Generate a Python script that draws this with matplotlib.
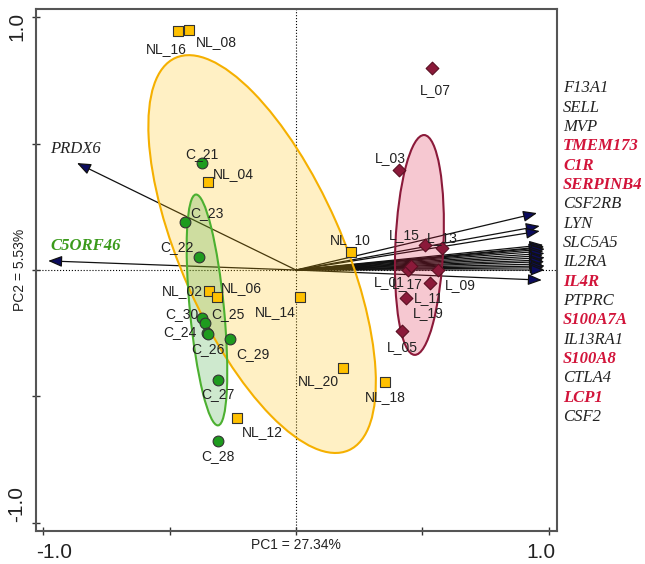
import matplotlib
matplotlib.use("Agg")
import matplotlib.pyplot as plt
from matplotlib.patches import Ellipse
from matplotlib.transforms import ScaledTranslation
import numpy as np

# sample scores (PC1, PC2)
nl_names = ['NL_16', 'NL_08', 'NL_04', 'NL_10', 'NL_02', 'NL_06', 'NL_14', 'NL_12', 'NL_20', 'NL_18']
nl_x = [-0.466, -0.423, -0.348, 0.217, -0.344, -0.313, 0.016, -0.233, 0.186, 0.352]
nl_y = [0.945, 0.949, 0.348, 0.071, -0.083, -0.107, -0.107, -0.585, -0.387, -0.443]

c_names = ['C_21', 'C_23', 'C_22', 'C_30', 'C_25', 'C_24', 'C_26', 'C_29', 'C_27', 'C_28']
c_x = [-0.371, -0.439, -0.383, -0.373, -0.360, -0.351, -0.348, -0.261, -0.307, -0.307]
c_y = [0.423, 0.190, 0.051, -0.191, -0.208, -0.250, -0.253, -0.273, -0.435, -0.676]

l_names = ['L_07', 'L_03', 'L_15', 'L_13', 'L_01', 'L_11', 'L_17', 'L_09', 'L_19', 'L_05']
l_x = [0.538, 0.407, 0.510, 0.577, 0.443, 0.455, 0.529, 0.561, 0.435, 0.419]
l_y = [0.798, 0.395, 0.099, 0.087, 0.000, 0.016, -0.051, 0.000, -0.110, -0.241]

# label offsets in pixels (dx, dy)
nl_off = [(-12, -18), (27, -12), (25, 8), (-1, 12), (-27, 0), (25, 9), (-25, -15), (25, -14), (-25, -13), (0, -15)]
c_off = [(0, 9), (22, 9), (-22, 10), (-20, 4), (23, 9), (-27, 1), (0, -15), (23, -15), (0, -14), (0, -15)]
l_off = [(3, -22), (-9, 12), (-21, 10), (0, 10), (-19, -12), (18, -32), (-22, -1), (22, -15), (22, -15), (0, -16)]

# variable loadings
genes = ['F13A1', 'SELL', 'MVP', 'TMEM173', 'C1R', 'SERPINB4', 'CSF2RB', 'LYN', 'SLC5A5',
         'IL2RA', 'IL4R', 'PTPRC', 'S100A7A', 'IL13RA1', 'S100A8', 'CTLA4', 'LCP1', 'CSF2']
gene_hl = [0, 0, 0, 1, 1, 1, 0, 0, 0, 0, 1, 0, 1, 0, 1, 0, 1, 0]
gene_x = [0.953, 0.964, 0.964, 0.978, 0.982, 0.975, 0.984, 0.979, 0.983, 0.976,
          0.984, 0.978, 0.982, 0.976, 0.984, 0.979, 0.983, 0.972]
gene_y = [0.225, 0.174, 0.154, 0.099, 0.092, 0.088, 0.083, 0.075, 0.066, 0.057,
          0.049, 0.040, 0.033, 0.024, 0.016, 0.009, 0.000, -0.040]

left_genes = ['PRDX6', 'C5ORF46']
left_x = [-0.866, -0.980]
left_y = [0.423, 0.036]

fig = plt.figure(figsize=(6.45, 5.64), dpi=100)
ax = fig.add_axes([36 / 645, 1 - 531 / 564, 521 / 645, 522 / 564])
ax.set_xlim(-1.028, 1.032)
ax.set_ylim(-1.032, 1.032)

ax.axvline(0, color='k', ls=':', lw=0.8, zorder=1)
ax.axhline(0, color='k', ls=':', lw=0.8, zorder=1)

# arrows
head = '-|>,head_length=0.7,head_width=0.28'
for gx, gy in zip(gene_x + left_x, gene_y + left_y):
    ax.annotate('', xy=(gx, gy), xytext=(0, 0),
                arrowprops=dict(arrowstyle=head, fc='#0c0c5e', ec='#111111', lw=0.9,
                                shrinkA=0, shrinkB=0, mutation_scale=12), zorder=2)

# ellipses
groups = [((-0.134, 0.063), 0.638, 1.696, 23.8, '#FFC000', '#F5B000'),
          ((-0.352, -0.158), 0.135, 0.917, 5.5, '#2CA02C', '#4CB030'),
          ((0.488, 0.099), 0.19, 0.87, -2.5, '#DC143C', '#8B1A3A')]
for xy, w, h, ang, fc, ec in groups:
    ax.add_patch(Ellipse(xy, w, h, angle=ang, fc=fc, ec='none', alpha=0.23, zorder=3))
    ax.add_patch(Ellipse(xy, w, h, angle=ang, fc='none', ec=ec, lw=1.5, zorder=4))

ax.scatter(nl_x, nl_y, marker='s', s=55, c='#FFC000', edgecolors='#333333', linewidths=0.8, zorder=5)
ax.scatter(c_x, c_y, marker='o', s=60, c='#1E9B1E', edgecolors='#333333', linewidths=0.8, zorder=5)
ax.scatter(l_x, l_y, marker='D', s=42, c='#8B1A3A', edgecolors='#5a0f22', linewidths=0.8, zorder=5)

for names, xs, ys, offs in [(nl_names, nl_x, nl_y, nl_off), (c_names, c_x, c_y, c_off),
                            (l_names, l_x, l_y, l_off)]:
    for n, x, y, (dx, dy) in zip(names, xs, ys, offs):
        ax.annotate(n, (x, y), xytext=(dx, dy), textcoords='offset pixels', ha='center',
                    va='center', fontsize=10, family='Liberation Sans', color='#222222', zorder=6)

# gene names
serif = 'Liberation Serif'
label_y = np.linspace(0.719, 0.719 - 17 * 0.0765, len(genes))
for g, hl, ly in zip(genes, gene_hl, label_y):
    ax.text(1.0115, ly, g, transform=ax.get_yaxis_transform(), ha='left', va='center',
            fontsize=12, family=serif, style='italic',
            weight='bold' if hl else 'normal', color='#D2143A' if hl else '#222222', clip_on=False)

ax.text(-0.972, 0.478, 'PRDX6', ha='left', va='center', fontsize=12, family=serif,
        style='italic', color='#222222', zorder=6)
ax.text(-0.972, 0.095, 'C5ORF46', ha='left', va='center', fontsize=12, family=serif,
        style='italic', weight='bold', color='#3A9A1A', zorder=6)

# axes styling
for s in ax.spines.values():
    s.set_color('#555555')
    s.set_linewidth(1.5)
ax.set_xticks([-1, -0.5, 0, 0.5, 1])
ax.set_xticklabels(['-1.0', '', '', '', '1.0'])
ax.set_yticks([-1, -0.5, 0, 0.5, 1])
ax.set_yticklabels(['-1.0', '', '', '', '1.0'], rotation=90, va='center')
ax.tick_params(direction='inout', length=6, width=1, color='#333333', labelsize=15,
               labelcolor='#222222')
ax.tick_params(axis='x', pad=6)
ax.tick_params(axis='y', pad=4)
for lab in ax.get_yticklabels():
    lab.set_family('Liberation Sans')
for lab in ax.get_xticklabels():
    lab.set_family('Liberation Sans')

shift = [(11, 0), (-8, 0)]
xl = [l for l in ax.get_xticklabels() if l.get_text()]
for lab, (dx, dy) in zip(xl, shift):
    lab.set_transform(lab.get_transform() + ScaledTranslation(dx / 100, dy / 100, fig.dpi_scale_trans))
yl = [l for l in ax.get_yticklabels() if l.get_text()]
for lab, dy in zip(yl, [19, -9]):
    lab.set_transform(lab.get_transform() + ScaledTranslation(0, dy / 100, fig.dpi_scale_trans))

ax.text(0, -0.027, 'PC1 = 27.34%', transform=ax.get_xaxis_transform(), ha='center', va='center',
        fontsize=10, family='Liberation Sans', color='#222222')
ax.text(-0.031, 0, 'PC2 = 5.53%', transform=ax.get_yaxis_transform(), ha='center', va='center',
        rotation=90, fontsize=10, family='Liberation Sans', color='#222222')

fig.savefig('out.png', dpi=100)
